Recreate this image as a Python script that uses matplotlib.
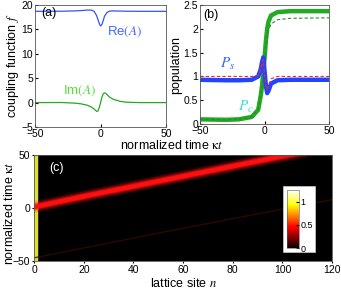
import matplotlib
matplotlib.use("Agg")
import matplotlib.pyplot as plt
from matplotlib.patches import Rectangle
import matplotlib.cm as cm
import matplotlib.colors as mcolors

plt.rcParams.update({
    "font.family": ["Liberation Sans", "DejaVu Sans"],
    "mathtext.fontset": "stix",
    "font.size": 7.5,
    "xtick.direction": "in",
    "ytick.direction": "in",
    "xtick.major.size": 2,
    "ytick.major.size": 2,
    "xtick.major.pad": 1.5,
    "ytick.major.pad": 1.5,
    "axes.linewidth": 0.6,
    "axes.edgecolor": "#555555",
})

# panel (a): coupling function
t_a = [-50, -30, -20, -15, -10, -7, -5, -3, -2, -1, 0, 1, 2, 3, 5, 7, 10, 15, 20, 30, 50]
re_a = [18.7, 18.72, 18.78, 18.85, 18.95, 18.95, 18.7, 17.8, 17.0, 16.2, 15.7, 16.0, 16.8,
        17.7, 18.5, 18.75, 18.78, 18.75, 18.72, 18.7, 18.7]
t_im = [-50, -30, -20, -15, -10, -7, -5, -4, -3, -2, -1, 0, 1, 2, 3, 4, 5, 7, 10, 15, 20, 30, 50]
im_a = [0, 0.02, -0.1, -0.25, -0.55, -0.9, -1.3, -1.55, -1.8, -1.7, -1.0, 0, 1.1, 1.8, 2.0,
        1.9, 1.6, 1.1, 0.65, 0.25, 0.08, 0, 0]

# panel (b): populations
t_b = [-50, -30, -20, -10, -5, -3, -2, -1, 0, 1, 2, 3, 5, 10, 20, 50]
pc_b = [0.1, 0.09, 0.1, 0.15, 0.3, 0.6, 0.8, 1.1, 1.4, 1.75, 2.0, 2.15, 2.28, 2.35, 2.37, 2.37]
pc_dash = [0.1, 0.09, 0.1, 0.15, 0.3, 0.6, 0.8, 1.1, 1.35, 1.65, 1.85, 1.98, 2.1, 2.19, 2.22, 2.23]
ps_b = [0.93, 0.92, 0.92, 0.93, 1.0, 1.15, 1.3, 1.4, 1.1, 0.8, 0.65, 0.7, 0.85, 0.92, 0.93, 0.93]
ps_dash = [1.0, 1.0, 1.0, 1.0, 1.02, 1.15, 1.3, 1.35, 1.0, 0.8, 0.72, 0.8, 0.95, 1.0, 1.0, 1.0]

# panel (c): wave-packet ridge in the lattice
n_ridge = [0, 20, 40, 60, 80, 100, 120]
t_ridge = [1, 11, 20.5, 30, 39.5, 49, 58]
n_faint = [0, 60, 120]
t_faint = [-47, -19, 8]

fig = plt.figure(figsize=(3.41, 2.92), dpi=100)
ax_a = fig.add_axes([0.103, 0.565, 0.384, 0.418])
ax_b = fig.add_axes([0.587, 0.575, 0.378, 0.408])
ax_c = fig.add_axes([0.100, 0.106, 0.874, 0.363])

# (a)
ax_a.plot(t_a, re_a, color="#3355ee", lw=0.9)
ax_a.plot(t_im, im_a, color="#22aa22", lw=0.9)
ax_a.set_xlim(-50, 50)
ax_a.set_ylim(-5, 20)
ax_a.set_xticks([-50, 0, 50])
ax_a.set_yticks([-5, 0, 5, 10, 15, 20])
ax_a.set_ylabel(r"coupling function $f$", fontsize=9, labelpad=0)
ax_a.text(-45, 18.4, "(a)", fontsize=9, va="center")
ax_a.text(5, 14.5, r"Re$(A)$", color="#4466ff", fontsize=9.5, va="center")
ax_a.text(-29, 2.4, r"Im$(A)$", color="#55dd33", fontsize=9.5, va="center")

# (b)
ax_b.plot(t_b, pc_b, color="#22aa22", lw=3.2, solid_capstyle="butt")
ax_b.plot(t_b, pc_dash, color="#2a8a2a", lw=0.8, ls=(0, (3, 2)))
ax_b.plot(t_b, ps_b, color="#2244ff", lw=3.2, solid_capstyle="butt")
ax_b.plot(t_b, ps_dash, color="#ff2222", lw=0.8, ls=(0, (3, 2)))
ax_b.set_xlim(-50, 50)
ax_b.set_ylim(0, 2.5)
ax_b.set_xticks([-50, 0, 50])
ax_b.set_yticks([0, 0.5, 1, 1.5, 2, 2.5])
ax_b.set_yticklabels(["0", "0.5", "1", "1.5", "2", "2.5"])
ax_b.set_ylabel("population", fontsize=9, labelpad=1)
ax_b.text(-47.5, 2.29, "(b)", fontsize=9, va="center")
ax_b.text(-34.5, 1.26, r"$P_s$", color="#3366ff", fontsize=11, va="center")
ax_b.text(-20.5, 0.36, r"$P_c$", color="#33dddd", fontsize=11, va="center")

fig.text(0.505, 0.503, r"normalized time $\mathrm{\kappa}t$", ha="center", va="center", fontsize=9)

# (c)
ax_c.set_facecolor("black")
for lw, a in [(9, 0.12), (7, 0.25), (5, 0.45), (3.5, 0.8), (2.2, 1.0)]:
    ax_c.plot(n_ridge, t_ridge, color="#ff1010", lw=lw, alpha=a, solid_capstyle="butt")
ax_c.plot(n_faint, t_faint, color="#3a0808", lw=1.0, alpha=0.8)
ax_c.axvspan(0, 1.1, color="#dde030")
ax_c.set_xlim(0, 120)
ax_c.set_ylim(-50, 50)
ax_c.set_xticks([0, 20, 40, 60, 80, 100, 120])
ax_c.set_yticks([-50, 0, 50])
ax_c.tick_params(direction="out", length=1.5)
ax_c.set_xlabel(r"lattice site $n$", fontsize=9, labelpad=1)
ax_c.set_ylabel(r"normalized time $\mathrm{\kappa}t$", fontsize=9)
ax_c.yaxis.set_label_coords(-0.062, 0.45)
ax_c.text(0.05, 0.88, "(c)", color="white", transform=ax_c.transAxes, fontsize=9, va="center")

ax_c.add_patch(Rectangle((0.836, 0.085), 0.107, 0.623, transform=ax_c.transAxes,
                         facecolor="white", edgecolor="#cccccc", lw=0.5, zorder=5))
cax = ax_c.inset_axes([0.849, 0.123, 0.04, 0.547])
cax.set_zorder(6)
sm = cm.ScalarMappable(norm=mcolors.Normalize(0, 1.25), cmap="hot")
cb = fig.colorbar(sm, cax=cax, ticks=[0, 0.5, 1])
cb.ax.tick_params(labelsize=6.5, length=2, pad=1)
cb.ax.set_yticklabels(["0", "0.5", "1"])
cb.outline.set_linewidth(0.4)

fig.savefig("out.png", dpi=100)
